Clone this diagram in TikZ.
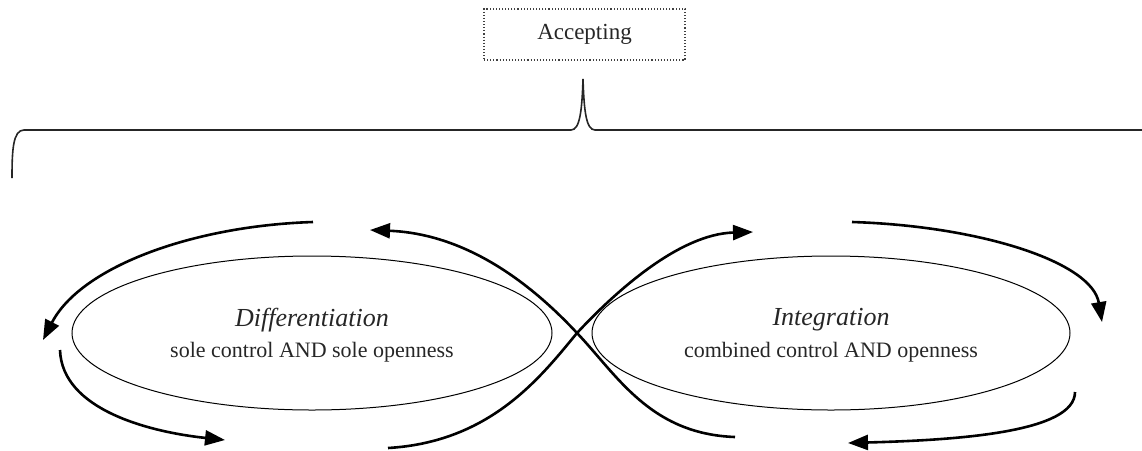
\documentclass[tikz,border=0pt]{standalone}
\usepackage{fontspec}
\setmainfont{Liberation Serif}
\usetikzlibrary{arrows.meta}
\begin{document}
\begin{tikzpicture}[x=1pt,y=-1pt,
  flow/.style={line width=2.6pt,-{Triangle[length=20pt,width=15pt]}},
  brace/.style={line width=1.6pt,draw=black!85},
  title/.style={font=\fontsize{26}{30}\selectfont\itshape,text=black!85},
  sub/.style={font=\fontsize{22}{26}\selectfont,text=black!85}]
\useasboundingbox (0,0) rectangle (1142,450);
% Accepting box
\node[draw=black!75,dotted,line width=1.1pt,minimum width=201pt,minimum height=51pt,
  font=\fontsize{23}{27}\selectfont,text=black!85] (acc) at (584.5,34.5) {Accepting};
% brace
\draw[brace] (12,178) .. controls (12,150) and (13,130) .. (24,130)
  -- (571,130) .. controls (580,130) and (582,110) .. (583,79)
  .. controls (584,110) and (586,130) .. (595,130) -- (1142,130);
% ellipses
\draw[line width=1pt] (312,333) ellipse [x radius=240,y radius=77];
\draw[line width=1pt] (831,333) ellipse [x radius=239,y radius=77];
\node[title] (dt) at (312,320) {Differentiation};
\node[sub] (ds) at (312,352) {sole control AND sole openness};
\node[title] (it) at (831,320) {Integration};
\node[sub] (is) at (831,352) {combined control AND openness};
% coordinates
\coordinate (a1) at (313,222); \coordinate (a2) at (43,340);
\coordinate (b1) at (60,350);  \coordinate (b2) at (225,440);
\coordinate (x) at (577,333);
\coordinate (c1) at (735,437); \coordinate (c2) at (370,230);
\coordinate (d1) at (388,448); \coordinate (d2) at (753,232);
\coordinate (e1) at (852,222); \coordinate (e2) at (1102,322);
\coordinate (f1) at (1075,392); \coordinate (f2) at (848,443);
% arrows
\draw[flow] (a1) .. controls (190,226) and (80,268) .. (a2);
\draw[flow] (b1) .. controls (62,410) and (150,432) .. (b2);
\draw[flow] (c1) .. controls (650,434) and (617,375) .. (x)
  .. controls (535,288) and (470,234) .. (c2);
\draw[flow] (d1) .. controls (490,442) and (540,378) .. (x)
  .. controls (617,290) and (680,234) .. (d2);
\draw[flow] (e1) .. controls (980,226) and (1092,262) .. (e2);
\draw[flow] (f1) .. controls (1075,432) and (960,440) .. (f2);
\end{tikzpicture}
\end{document}
